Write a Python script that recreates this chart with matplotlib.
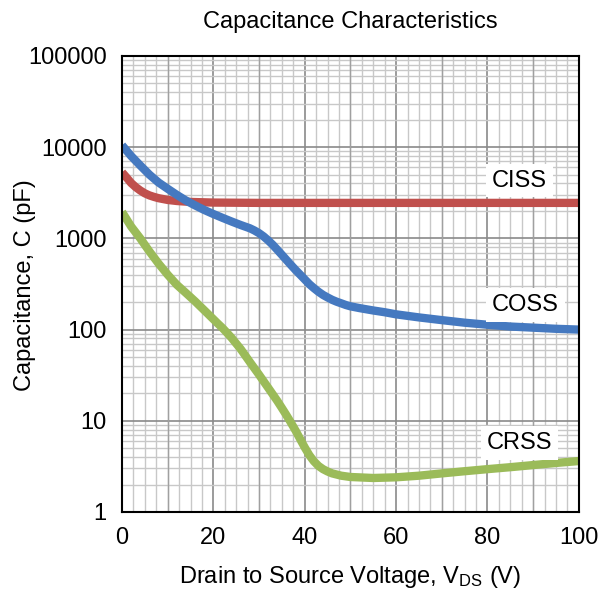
import matplotlib
matplotlib.use("Agg")
import matplotlib.pyplot as plt
from matplotlib.ticker import MultipleLocator, LogLocator, NullFormatter

plt.rcParams['font.family'] = ['Liberation Sans', 'DejaVu Sans']
plt.rcParams['mathtext.default'] = 'regular'

# CISS (input capacitance), pF
ciss_v = [0, 1, 2, 3, 4, 5, 6, 7, 8, 10, 12, 15, 20, 30, 40, 50, 60, 70, 80, 90, 100]
ciss_c = [5300, 4650, 4050, 3650, 3350, 3120, 2960, 2850, 2760, 2640, 2570, 2510,
          2470, 2450, 2450, 2450, 2450, 2450, 2450, 2450, 2450]

# COSS (output capacitance), pF
coss_v = [0, 2, 4, 6, 8, 10, 12, 14, 16, 18, 20, 22, 24, 26, 28, 29, 30, 31, 32, 33,
          34, 35, 36, 37, 38, 39, 40, 41, 42, 43, 44, 45, 46, 47, 48, 49, 50, 52, 55,
          57.5, 60, 65, 70, 75, 80, 85, 90, 95, 100]
coss_c = [10500, 8000, 6300, 5000, 4100, 3500, 3000, 2600, 2300, 2050, 1850, 1680,
          1530, 1400, 1290, 1220, 1140, 1050, 950, 850, 750, 660, 580, 510, 450, 400,
          355, 315, 285, 260, 240, 225, 212, 202, 194, 186, 180, 172, 162, 155, 147,
          136, 127, 119, 113, 108, 105, 102, 100]

# CRSS (reverse transfer capacitance), pF
crss_v = [0, 2, 4, 6, 8, 10, 12, 14, 16, 18, 20, 21, 22, 23, 24, 26, 28, 30, 32, 34,
          35, 36, 37, 38, 39, 40, 41, 42, 43, 44, 45, 46, 48, 50, 55, 60, 65, 70, 75,
          80, 85, 90, 95, 100]
crss_c = [1950, 1350, 1000, 720, 530, 400, 310, 252, 204, 163, 130, 116, 104, 92,
          81, 61, 44, 32, 23, 16.5, 13.8, 11.5, 9.5, 7.8, 6.3, 5.1, 4.2, 3.6, 3.2,
          2.95, 2.78, 2.65, 2.5, 2.42, 2.36, 2.4, 2.5, 2.65, 2.8, 2.95, 3.1, 3.27,
          3.45, 3.62]

labels = ["CISS", "COSS", "CRSS"]
label_v = [87, 88.3, 87]
label_c = [4300, 186, 5.7]

fig = plt.figure(figsize=(5.98, 5.93), dpi=100)
ax = fig.add_axes([0.204, 0.1366, 0.764, 0.769])

ax.set_yscale('log')
ax.set_xlim(0, 100)
ax.set_ylim(1, 100000)

# grid: vertical minor every 2.5, medium every 10, dark every 20
ax.xaxis.set_major_locator(MultipleLocator(20))
ax.xaxis.set_minor_locator(MultipleLocator(2.5))
for v in range(10, 100, 20):
    ax.axvline(v, color='#a0a0a0', lw=1.0, zorder=1)
ax.yaxis.set_minor_locator(LogLocator(base=10, subs=range(2, 10), numticks=20))
ax.yaxis.set_minor_formatter(NullFormatter())
ax.grid(which='minor', color='#c8c8c8', lw=1.0, zorder=0)
ax.grid(which='major', color='#8a8a8a', lw=1.2, zorder=1)
ax.set_axisbelow(True)

ax.set_yticks([1, 10, 100, 1000, 10000, 100000])
ax.set_yticklabels(['1', '10', '100', '1000', '10000', '100000'])
ax.tick_params(which='both', length=0, labelsize=17, pad=11)

line_kw = dict(lw=6, solid_capstyle='butt', solid_joinstyle='round')
ax.plot(ciss_v, ciss_c, color='#c0504d', zorder=3, **line_kw)
ax.plot(coss_v, coss_c, color='#4579c0', zorder=4, **line_kw)
ax.plot(crss_v, crss_c, color='#9bbb59', zorder=3, **line_kw)

for name, v, c in zip(labels, label_v, label_c):
    ax.text(v, c, name, fontsize=17, ha='center', va='center', zorder=5,
            bbox=dict(facecolor='white', edgecolor='none', pad=4))

for s in ax.spines.values():
    s.set_color('black')
    s.set_linewidth(1.5)
    s.set_zorder(6)

fig.text(0.585, 0.963, 'Capacitance Characteristics', fontsize=17, ha='center', va='center')
fig.text(0.585, 0.027, 'Drain to Source Voltage, V$_{DS}$ (V)', fontsize=17,
         ha='center', va='center')
fig.text(0.042, 0.52, 'Capacitance, C (pF)', fontsize=17, rotation=90,
         ha='center', va='center')

fig.savefig('out.png', dpi=100)
